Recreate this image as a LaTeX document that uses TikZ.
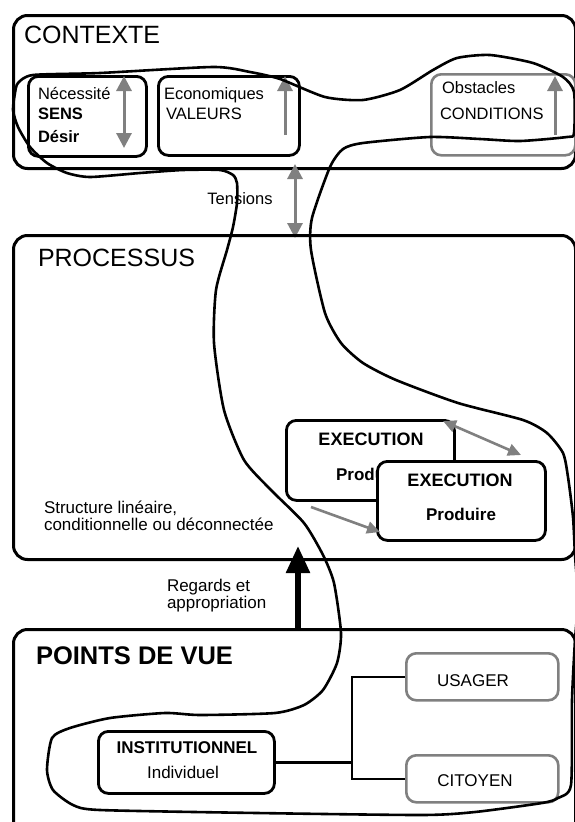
\documentclass[tikz,border=0pt]{standalone}
\usepackage{fontspec}
\setmainfont{Liberation Sans}
\usetikzlibrary{arrows.meta}
\newcommand\fsz[1]{\fontsize{#1}{#1}\selectfont}
\definecolor{grayA}{HTML}{808080}
\begin{document}
\begin{tikzpicture}[x=1pt,y=-1pt,
  frame/.style={draw, line width=3pt, rounded corners=14pt, inner sep=0pt},
  bbox/.style={draw, line width=2.8pt, rounded corners=10pt, inner sep=0pt},
  gbox/.style={draw=grayA, line width=2.6pt, rounded corners=10pt, inner sep=0pt},
  txt/.style={inner sep=0pt, outer sep=0pt},
  garrow/.style={draw=grayA, line width=3pt, {Triangle[length=15pt,width=15pt]}-{Triangle[length=15pt,width=15pt]}},
  gup/.style={draw=grayA, line width=3pt, -{Triangle[length=15pt,width=15pt]}},
  garrows/.style={draw=grayA, line width=2.6pt, {Triangle[length=13pt,width=12pt]}-{Triangle[length=13pt,width=12pt]}},
  gone/.style={draw=grayA, line width=2.6pt, -{Triangle[length=13pt,width=12pt]}},
  bigarrow/.style={draw=black, line width=5.5pt, -{Triangle[length=27pt,width=23pt]}},
  link/.style={draw, line width=2.6pt},
  loopline/.style={draw, line width=2.6pt, line join=round}]
\useasboundingbox (0,0) rectangle (575,822);
\clip (0,0) rectangle (575,822);
\fill[white] (0,0) rectangle (575,822);

% ---------- CONTEXTE ----------
\node[frame, anchor=north west, minimum width=562pt, minimum height=153pt] (ctx) at (12,14) {};
\node[txt, anchor=base west, font=\fsz{25}] (ctxt) at (24,43) {CONTEXTE};

\node[bbox, anchor=north west, minimum width=118pt, minimum height=80pt] (sens) at (27,75) {};
\node[txt, anchor=base west, font=\fsz{16.5}] (nec) at (38,99.5) {Nécessité};
\node[txt, anchor=base west, font=\fsz{16.5}\bfseries] (senst) at (38,119) {SENS};
\node[txt, anchor=base west, font=\fsz{16.5}\bfseries] (des) at (38,142.5) {Désir};
\coordinate (a1t) at (124,76);
\coordinate (a1b) at (124,148);
\draw[garrow] (a1b) -- (a1t);

\node[bbox, anchor=north west, minimum width=141pt, minimum height=79pt] (val) at (157,75) {};
\node[txt, anchor=base west, font=\fsz{16.5}] (eco) at (164,99.5) {Economiques};
\node[txt, anchor=base west, font=\fsz{16.5}] (valt) at (166,119) {VALEURS};
\coordinate (a2b) at (285,135);
\coordinate (a2t) at (285,76);
\draw[gup] (a2b) -- (a2t);

\node[gbox, anchor=north west, minimum width=144pt, minimum height=81pt] (cond) at (430,73) {};
\node[txt, anchor=base west, font=\fsz{16.5}] (obs) at (442,93) {Obstacles};
\node[txt, anchor=base west, font=\fsz{16.5}] (condt) at (440,119) {CONDITIONS};
\coordinate (a3b) at (555,135);
\coordinate (a3t) at (555,76);
\draw[gup] (a3b) -- (a3t);

% ---------- Tensions ----------
\coordinate (tt) at (295,164);
\coordinate (tb) at (295,238);
\draw[garrow] (tt) -- (tb);
\node[txt, anchor=base, font=\fsz{16.5}] (tens) at (240,204) {Tensions};

% ---------- PROCESSUS ----------
\node[frame, anchor=north west, minimum width=562pt, minimum height=324pt] (proc) at (12,234) {};
\node[txt, anchor=base west, font=\fsz{25}] (proct) at (38,266) {PROCESSUS};

\node[bbox, anchor=north west, minimum width=168pt, minimum height=80pt] (ex1) at (285,419) {};
\node[txt, anchor=base, font=\fsz{18}\bfseries] (ex1t) at (371,445) {EXECUTION};
\node[txt, anchor=base, font=\fsz{17}\bfseries] (ex1p) at (371,480) {Produire};

\node[bbox, fill=white, anchor=north west, minimum width=168pt, minimum height=79pt] (ex2) at (376,460) {};
\node[txt, anchor=base, font=\fsz{18}\bfseries] (ex2t) at (460,486) {EXECUTION};
\node[txt, anchor=base, font=\fsz{17}\bfseries] (ex2p) at (461,520.5) {Produire};

\coordinate (g1a) at (443,421);
\coordinate (g1b) at (521,455);
\draw[garrows] (g1a) -- (g1b);
\coordinate (g2a) at (311,507);
\coordinate (g2b) at (380,532);
\draw[gone] (g2a) -- (g2b);

\node[txt, anchor=base west, font=\fsz{17}] (st1) at (44,513) {Structure linéaire,};
\node[txt, anchor=base west, font=\fsz{17}] (st2) at (44,530) {conditionnelle ou déconnectée};

% ---------- Regards ----------
\node[txt, anchor=base west, font=\fsz{17}] (rg1) at (167,591) {Regards et};
\node[txt, anchor=base west, font=\fsz{17}] (rg2) at (167,608.5) {appropriation};
\coordinate (ba) at (298,628);
\coordinate (bb) at (298,546);
\draw[bigarrow] (ba) -- (bb);

% ---------- POINTS DE VUE ----------
\node[frame, anchor=north west, minimum width=562pt, minimum height=230pt] (pdv) at (12,628) {};
\node[txt, anchor=base west, font=\fsz{25.5}\bfseries] (pdvt) at (36,664.3) {POINTS DE VUE};

\node[bbox, anchor=north west, minimum width=176pt, minimum height=62pt] (inst) at (97,730) {};
\node[txt, anchor=base, font=\fsz{17}\bfseries] (instt) at (187,753.3) {INSTITUTIONNEL};
\node[txt, anchor=base, font=\fsz{17}] (indiv) at (183,778.3) {Individuel};

\node[gbox, anchor=north west, minimum width=152pt, minimum height=47pt] (usa) at (405,652) {};
\node[txt, anchor=base, font=\fsz{17}] (usat) at (473,686) {USAGER};
\node[gbox, anchor=north west, minimum width=152pt, minimum height=47pt] (cit) at (405,754) {};
\node[txt, anchor=base, font=\fsz{17}] (citt) at (475,786) {CITOYEN};

\coordinate (jx) at (352,0);
\draw[link] (inst.east) -- (inst.east -| jx);
\draw[link] (usa.west) -- (usa.west -| jx) -- (cit.west -| jx) -- (cit.west);

% ---------- freehand loop ----------
\draw[loopline] plot[smooth cycle, tension=0.4] coordinates {
 (33,75) (100,73) (213,67) (250,72) (280,79) (325,97) (363,100) (400,90)
 (433,70) (457,58) (490,55) (533,63) (563,77) (574,92) (574,133) (567,137)
 (520,141) (480,139) (430,137) (363,143) (343,149) (330,167) (312,218)
 (311,250) (325,313) (341,343) (363,363) (396,380) (458,403) (523,420)
 (547,433) (563,453) (568,477) (573,517) (575,555) (578,600) (575,640)
 (572,700) (571,785) (558,798) (542,803) (475,812) (422,815) (257,813)
 (100,810) (73,805) (53,790) (47,770) (52,738) (70,728) (110,718)
 (165,713) (200,715) (275,713) (304,705) (323,690) (337,663) (341,633)
 (334,583) (323,555) (304,523) (271,490) (244,460) (224,410) (214,343)
 (216,290) (227,250) (233,227) (237,203) (237,183) (233,175) (220,170)
 (183,170) (140,173) (90,177) (67,173) (47,163) (30,147) (18,127)
 (13,110) (15,93) (18,83)};
\end{tikzpicture}
\end{document}
